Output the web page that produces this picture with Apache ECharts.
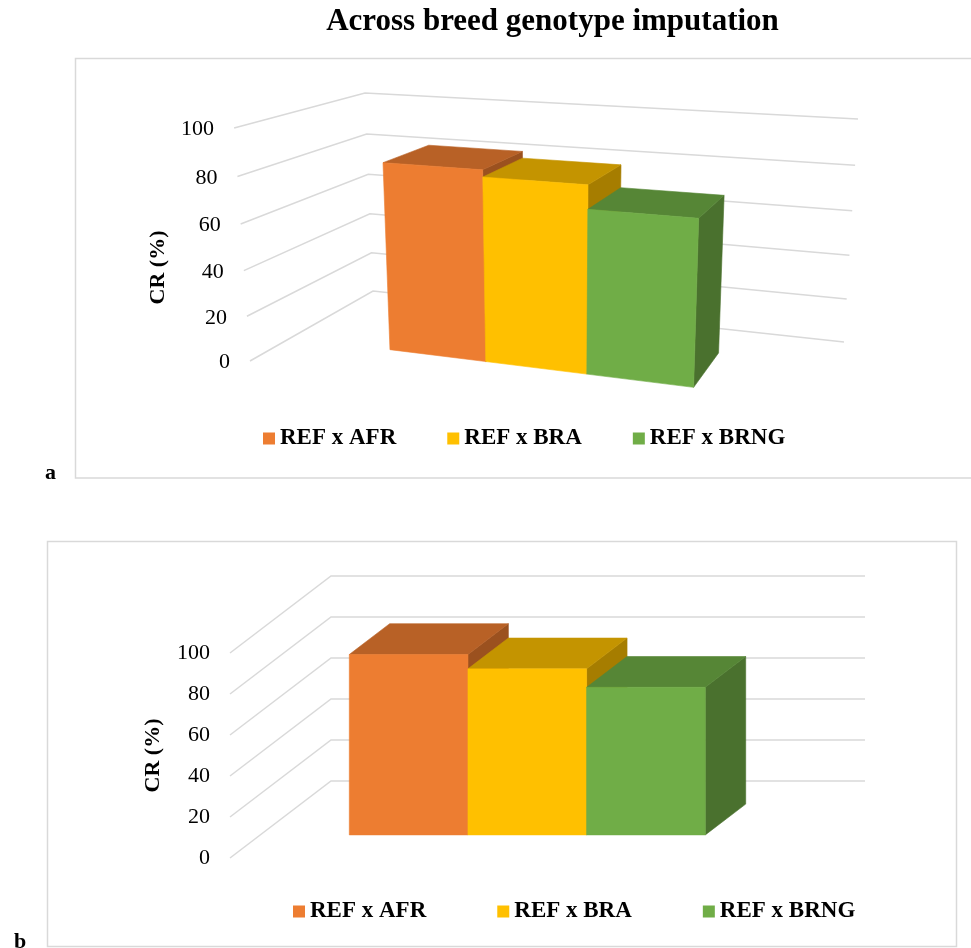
<!DOCTYPE html>
<html>
<head>
<meta charset="utf-8">
<script src="https://cdn.jsdelivr.net/npm/echarts@6/dist/echarts.min.js"></script>
<style>
  html, body { margin: 0; padding: 0; background: #ffffff; }
  #chart { width: 971px; height: 948px; }
</style>
</head>
<body>
<div id="chart"></div>
<script>
// ---- data ----
const categories = ['CR'];
const seriesNames = ['REF x AFR', 'REF x BRA', 'REF x BRNG'];
const valuesA = [83, 80, 70];   // panel a
const valuesB = [88, 81, 72];   // panel b
const ticks = [0, 20, 40, 60, 80, 100];
const tickLabels = ['0', '20', '40', '60', '80', '100'];

// ---- style ----
const FONT = '"Liberation Serif", "Times New Roman", serif';
const faceColors = ['#ED7D31', '#FFC000', '#70AD47'];
const topColors  = ['#B86126', '#C49400', '#568636'];
const sideColors = ['#9B511F', '#A67D00', '#4A712E'];
const GRID_COLOR = '#D9D9D9';
const Y_MAX = 100;

// Perspective map of the chart box: X across (0..1), Y up (0..1), Z into the page (0..1).
// It is set up from where the back wall corners and the front-left edge sit on screen.
function makeProjection(frame) {
  const p0 = frame.backLB, p1 = frame.backRB, p2 = frame.backRT, p3 = frame.backLT;
  const dx1 = p1[0] - p2[0], dx2 = p3[0] - p2[0], dx3 = p0[0] - p1[0] + p2[0] - p3[0];
  const dy1 = p1[1] - p2[1], dy2 = p3[1] - p2[1], dy3 = p0[1] - p1[1] + p2[1] - p3[1];
  let g = 0, h = 0;
  if (Math.abs(dx3) > 1e-9 || Math.abs(dy3) > 1e-9) {
    const den = dx1 * dy2 - dx2 * dy1;
    g = (dx3 * dy2 - dx2 * dy3) / den;
    h = (dx1 * dy3 - dx3 * dy1) / den;
  }
  const cx = [p1[0] - p0[0] + g * p1[0], p1[1] - p0[1] + g * p1[1], g];
  const cy = [p3[0] - p0[0] + h * p3[0], p3[1] - p0[1] + h * p3[1], h];
  const c1 = [p0[0], p0[1], 1];
  const u0 = frame.frontBottom[0], v0 = frame.frontBottom[1];
  const u1 = frame.frontTop[0], v1 = frame.frontTop[1];
  const a1 = u1 - u0, b1 = cy[0] - u1 * cy[2];
  const a2 = v1 - v0, b2 = cy[1] - v1 * cy[2];
  const mu = (a1 * b1 + a2 * b2) / (a1 * a1 + a2 * a2);
  const c0 = [mu * u0, mu * v0, mu];
  const cz = [c1[0] - c0[0], c1[1] - c0[1], c1[2] - c0[2]];
  return function (X, Y, Z) {
    const u = cx[0] * X + cy[0] * Y + cz[0] * Z + c0[0];
    const v = cx[1] * X + cy[1] * Y + cz[1] * Z + c0[1];
    const w = cx[2] * X + cy[2] * Y + cz[2] * Z + c0[2];
    return [u / w, v / w];
  };
}

const panels = [
  {
    values: valuesA,
    frame: {
      backLB: [373, 291], backRB: [844, 342], backRT: [858, 119], backLT: [365, 93],
      frontBottom: [250, 361], frontTop: [235, 128]
    },
    barSpan: [0.21, 0.79],
    depth: [0.3, 0.7],
    labelDy: 1.5,
    grid: { left: 250, top: 128, width: 594, height: 233 }
  },
  {
    values: valuesB,
    frame: {
      backLB: [331, 781], backRB: [865, 781], backRT: [865, 576], backLT: [331, 576],
      frontBottom: [230, 858], frontTop: [230, 653]
    },
    barSpan: [1 / 6, 5 / 6],
    depth: [0.3, 0.7],
    labelDy: 0.5,
    grid: { left: 230, top: 653, width: 534, height: 205 }
  }
];
panels.forEach(p => { p.proj = makeProjection(p.frame); });

// value -> height fraction through the panel's value axis
function heightOf(api, v) {
  const y0 = api.coord([0, 0])[1];
  const yTop = api.coord([0, Y_MAX])[1];
  const y = api.coord([0, v])[1];
  return (y0 - y) / (y0 - yTop);
}

const series = [];
panels.forEach((panel, pi) => {
  const P = panel.proj;
  // wall gridlines and tick labels
  series.push({
    type: 'custom',
    name: 'frame' + pi,
    xAxisIndex: pi, yAxisIndex: pi,
    silent: true, clip: false, animation: false,
    data: ticks.map(t => [0, t]),
    renderItem: function (params, api) {
      const Y = heightOf(api, api.value(1));
      const a = P(0, Y, 0), b = P(0, Y, 1), c = P(1, Y, 1);
      return {
        type: 'group',
        children: [
          { type: 'polyline', shape: { points: [a, b, c] },
            style: { stroke: GRID_COLOR, lineWidth: 1.5, fill: null } },
          { type: 'text', x: a[0] - 20, y: a[1] + panel.labelDy,
            style: { text: tickLabels[params.dataIndex], fill: '#000',
              fontFamily: FONT, fontSize: 22,
              align: 'right', verticalAlign: 'middle',
              textAlign: 'right', textVerticalAlign: 'middle' } }
        ]
      };
    }
  });
  // the three 3D columns
  seriesNames.forEach((name, i) => {
    series.push({
      type: 'custom',
      name: name,
      xAxisIndex: pi, yAxisIndex: pi,
      silent: true, clip: false, animation: false,
      itemStyle: { color: faceColors[i] },
      data: [[0, panel.values[i]]],
      renderItem: function (params, api) {
        const Y = heightOf(api, api.value(1));
        const w = (panel.barSpan[1] - panel.barSpan[0]) / seriesNames.length;
        const x0 = panel.barSpan[0] + i * w, x1 = x0 + w;
        const z0 = panel.depth[0], z1 = panel.depth[1];
        const front = [P(x0, 0, z0), P(x1, 0, z0), P(x1, Y, z0), P(x0, Y, z0)];
        const top = [P(x0, Y, z0), P(x1, Y, z0), P(x1, Y, z1), P(x0, Y, z1)];
        const side = [P(x1, 0, z0), P(x1, 0, z1), P(x1, Y, z1), P(x1, Y, z0)];
        return {
          type: 'group',
          children: [
            { type: 'polygon', shape: { points: side },
              style: { fill: sideColors[i], stroke: sideColors[i], lineWidth: 0.6 } },
            { type: 'polygon', shape: { points: top },
              style: { fill: topColors[i], stroke: topColors[i], lineWidth: 0.6 } },
            { type: 'polygon', shape: { points: front },
              style: { fill: faceColors[i], stroke: faceColors[i], lineWidth: 0.6 } }
          ]
        };
      }
    });
  });
});

const legendBase = {
  data: seriesNames.map((n, i) => ({ name: n, itemStyle: { color: faceColors[i] } })),
  icon: 'rect', itemWidth: 12, itemHeight: 12, padding: 0,
  selectedMode: false,
  textStyle: { fontFamily: FONT, fontWeight: 'bold', fontSize: 23, color: '#000', lineHeight: 24 }
};

const textStyle = (size, bold) => ({
  fill: '#000', fontFamily: FONT, fontSize: size, fontWeight: bold ? 'bold' : 'normal'
});

const option = {
  backgroundColor: '#ffffff',
  animation: false,
  title: {
    text: 'Across breed genotype imputation',
    left: 552.5, top: 6.5, textAlign: 'center', padding: 0,
    textStyle: { fontFamily: FONT, fontWeight: 'bold', fontSize: 31, color: '#000', lineHeight: 31 }
  },
  grid: panels.map(p => Object.assign({ show: false }, p.grid)),
  xAxis: panels.map((p, i) => ({ gridIndex: i, type: 'category', data: categories, show: false })),
  yAxis: panels.map((p, i) => ({ gridIndex: i, type: 'value', min: 0, max: Y_MAX, interval: 20, show: false })),
  legend: [
    Object.assign({}, legendBase, { left: 263, top: 426.5, itemGap: 51 }),
    Object.assign({}, legendBase, { left: 293, top: 899.5, itemGap: 71 })
  ],
  graphic: [
    { type: 'rect', silent: true, z: -10,
      shape: { x: 75.5, y: 58.5, width: 930, height: 419.5 },
      style: { fill: null, stroke: GRID_COLOR, lineWidth: 1.5 } },
    { type: 'rect', silent: true, z: -10,
      shape: { x: 47.5, y: 541.5, width: 909, height: 405 },
      style: { fill: null, stroke: GRID_COLOR, lineWidth: 1.5 } },
    { type: 'text', silent: true, x: 158, y: 267.5, rotation: Math.PI / 2,
      style: Object.assign(textStyle(22, true), { text: 'CR (%)',
        align: 'center', verticalAlign: 'middle', textAlign: 'center', textVerticalAlign: 'middle' }) },
    { type: 'text', silent: true, x: 153, y: 755.5, rotation: Math.PI / 2,
      style: Object.assign(textStyle(22, true), { text: 'CR (%)',
        align: 'center', verticalAlign: 'middle', textAlign: 'center', textVerticalAlign: 'middle' }) },
    { type: 'text', silent: true, x: 45, y: 473,
      style: Object.assign(textStyle(22, true), { text: 'a',
        align: 'left', verticalAlign: 'middle', textAlign: 'left', textVerticalAlign: 'middle' }) },
    { type: 'text', silent: true, x: 14, y: 942,
      style: Object.assign(textStyle(22, true), { text: 'b',
        align: 'left', verticalAlign: 'middle', textAlign: 'left', textVerticalAlign: 'middle' }) }
  ],
  series: series
};

const chart = echarts.init(document.getElementById('chart'), null, { renderer: 'canvas' });
chart.setOption(option);
</script>
</body>
</html>
